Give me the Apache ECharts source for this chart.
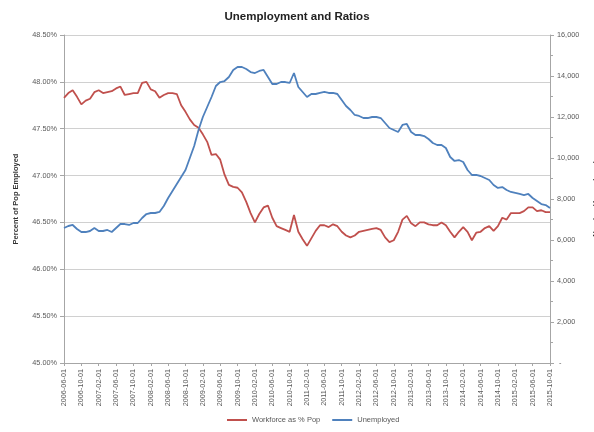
<!DOCTYPE html>
<html>
<head>
<meta charset="utf-8">
<script src="https://cdn.jsdelivr.net/npm/echarts@6/dist/echarts.min.js"></script>
<style>
  html, body { margin: 0; padding: 0; background: #ffffff; }
  #chart { width: 594px; height: 432px; }
</style>
</head>
<body>
<div id="chart"></div>
<script>
// Monthly observations, June 2006 through October 2015
const months = [];
for (let y = 2006, m = 6; y < 2015 || (y === 2015 && m <= 10); ) {
  months.push(y + '-' + String(m).padStart(2, '0') + '-01');
  m++;
  if (m > 12) { m = 1; y++; }
}

// Workforce as a share of population (%)
const workforcePct = [
  47.83, 47.88, 47.91, 47.84, 47.76, 47.80, 47.82, 47.89, 47.91, 47.88,
  47.89, 47.90, 47.93, 47.95, 47.86, 47.87, 47.88, 47.88, 47.99, 48.00,
  47.92, 47.90, 47.83, 47.86, 47.88, 47.88, 47.87, 47.75, 47.68, 47.60,
  47.54, 47.51, 47.44, 47.36, 47.22, 47.23, 47.17, 47.01, 46.90, 46.88,
  46.87, 46.82, 46.72, 46.60, 46.50, 46.59, 46.66, 46.68, 46.55, 46.46,
  46.44, 46.42, 46.40, 46.58, 46.40, 46.32, 46.25, 46.33, 46.41, 46.47,
  46.47, 46.45, 46.48, 46.46, 46.40, 46.36, 46.34, 46.36, 46.40, 46.41,
  46.42, 46.43, 46.44, 46.42, 46.34, 46.29, 46.31, 46.40, 46.53, 46.57,
  46.49, 46.46, 46.50, 46.50, 46.48, 46.47, 46.47, 46.50, 46.47, 46.40,
  46.34, 46.40, 46.45, 46.40, 46.31, 46.39, 46.40, 46.44, 46.46, 46.41,
  46.46, 46.55, 46.53, 46.60, 46.60, 46.60, 46.62, 46.66, 46.66, 46.62,
  46.63, 46.61, 46.61
];

// Number unemployed (thousands)
const unemployed = [
  6585, 6683, 6732, 6537, 6390, 6390, 6439, 6585, 6439, 6439,
  6488, 6390, 6585, 6780, 6780, 6732, 6829, 6829, 7073, 7268,
  7317, 7317, 7366, 7659, 8049, 8390, 8732, 9073, 9415, 10000,
  10585, 11366, 12000, 12488, 12976, 13512, 13707, 13756, 13951, 14293,
  14439, 14439, 14341, 14195, 14146, 14244, 14293, 13951, 13610, 13610,
  13707, 13707, 13659, 14146, 13463, 13220, 12976, 13122, 13122, 13171,
  13220, 13171, 13171, 13122, 12829, 12537, 12341, 12098, 12049, 11951,
  11951, 12000, 12000, 11951, 11707, 11463, 11366, 11268, 11610, 11659,
  11268, 11122, 11122, 11073, 10927, 10732, 10634, 10634, 10488, 10049,
  9854, 9902, 9805, 9415, 9171, 9171, 9122, 9024, 8927, 8683,
  8537, 8585, 8439, 8342, 8293, 8244, 8195, 8244, 8049, 7902,
  7756, 7707, 7561
];

const seriesNames = ['Workforce as % Pop', 'Unemployed'];

const gray = '#595959';
const chart = echarts.init(document.getElementById('chart'));
chart.setOption({
  animation: false,
  backgroundColor: '#ffffff',
  textStyle: { fontFamily: 'Liberation Sans, Arial, sans-serif' },
  title: {
    text: 'Unemployment and Ratios',
    left: 'center',
    top: 6,
    textStyle: { fontSize: 11.5, fontWeight: 'bold', color: '#222222' }
  },
  legend: {
    bottom: 3,
    left: 222,
    itemWidth: 20,
    itemHeight: 2,
    itemGap: 12,
    icon: 'rect',
    textStyle: { fontSize: 7.5, color: gray },
    data: seriesNames
  },
  grid: {
    left: 64, right: 44, top: 35, bottom: 69,
    containLabel: false,
    outerBoundsMode: 'none'
  },
  xAxis: {
    type: 'category',
    data: months,
    boundaryGap: false,
    axisLine: { lineStyle: { color: '#a6a6a6' } },
    axisTick: { interval: 3, length: 3, lineStyle: { color: '#a6a6a6' } },
    axisLabel: { interval: 3, rotate: 90, fontSize: 7.3, color: gray, margin: 6 }
  },
  yAxis: [
    {
      type: 'value',
      min: 45, max: 48.5, interval: 0.5,
      name: 'Percent of Pop Employed',
      nameLocation: 'middle',
      nameGap: 44,
      nameTextStyle: { fontSize: 7.5, fontWeight: 'bold', color: '#333333' },
      axisLine: { show: true, lineStyle: { color: '#a6a6a6' } },
      axisTick: { show: true, length: 4, lineStyle: { color: '#a6a6a6' } },
      axisLabel: { fontSize: 7.3, color: gray, margin: 7, formatter: v => v.toFixed(2) + '%' },
      splitLine: { lineStyle: { color: '#d0d0d0', width: 1 } }
    },
    {
      type: 'value',
      min: 0, max: 16000, interval: 2000,
      position: 'right',
      name: 'Number Unemployed',
      nameLocation: 'middle',
      nameGap: 42,
      nameTextStyle: { fontSize: 7.5, fontWeight: 'bold', color: '#333333' },
      axisLine: { show: true, lineStyle: { color: '#a6a6a6' } },
      axisTick: { show: true, length: 4, lineStyle: { color: '#a6a6a6' } },
      minorTick: { show: true, splitNumber: 2, length: 3, lineStyle: { color: '#a6a6a6' } },
      axisLabel: {
        fontSize: 7.3, color: gray, margin: 7,
        formatter: v => v === 0 ? ' -' : v.toLocaleString('en-US')
      },
      splitLine: { show: false }
    }
  ],
  series: [
    {
      name: seriesNames[0],
      type: 'line',
      yAxisIndex: 0,
      data: workforcePct,
      showSymbol: false,
      lineStyle: { color: '#c0504d', width: 1.8 },
      itemStyle: { color: '#c0504d' }
    },
    {
      name: seriesNames[1],
      type: 'line',
      yAxisIndex: 1,
      data: unemployed,
      showSymbol: false,
      lineStyle: { color: '#4f81bd', width: 1.8 },
      itemStyle: { color: '#4f81bd' }
    }
  ]
});
</script>
</body>
</html>
